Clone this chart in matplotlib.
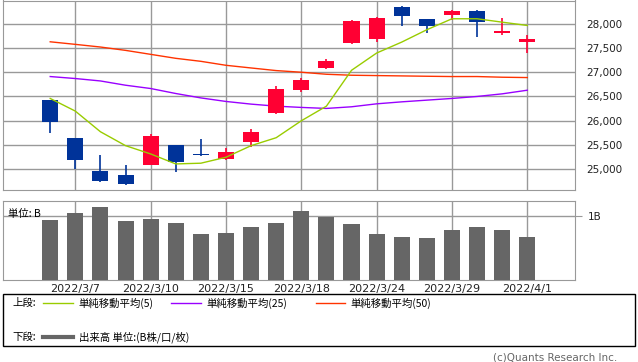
import numpy as np
import matplotlib
matplotlib.use('Agg')
import matplotlib.pyplot as plt
from matplotlib.patches import Rectangle
from matplotlib.lines import Line2D

plt.rcParams['font.family'] = ['DejaVu Sans', 'Noto Sans CJK JP']

# Données
dates = ['2022/3/4', '2022/3/7', '2022/3/8', '2022/3/9', '2022/3/10', '2022/3/11',
         '2022/3/14', '2022/3/15', '2022/3/16', '2022/3/17', '2022/3/18', '2022/3/22',
         '2022/3/23', '2022/3/24', '2022/3/25', '2022/3/28', '2022/3/29', '2022/3/30',
         '2022/3/31', '2022/4/1']
opens = [26424, 25643, 24965, 24883, 25094, 25499, 25320, 25211, 25561, 26163,
         26636, 27088, 27601, 27684, 28356, 28088, 28177, 28273, 27801, 27622]
highs = [26430, 25650, 25294, 25088, 25725, 25500, 25622, 25437, 25828, 26712,
         26882, 27281, 28068, 28135, 28360, 28095, 28280, 28294, 28109, 27766]
lows = [25752, 25000, 24745, 24663, 25090, 24950, 25280, 25197, 25465, 26136,
        26594, 27061, 27589, 27622, 27945, 27807, 28068, 27725, 27766, 27396]
closes = [25978, 25191, 24760, 24704, 25684, 25150, 25300, 25355, 25766, 26650,
          26835, 27225, 28047, 28129, 28156, 27951, 28273, 28033, 27842, 27677]
ma5 = [26459, 26198, 25772, 25485, 25314, 25108, 25123, 25246, 25485, 25649,
       25998, 26300, 27040, 27396, 27622, 27877, 28103, 28103, 28033, 27965]
ma25 = [26911, 26870, 26820, 26732, 26664, 26561, 26470, 26397, 26342, 26300,
        26274, 26253, 26287, 26348, 26389, 26424, 26459, 26500, 26554, 26629]
ma50 = [27628, 27575, 27520, 27451, 27369, 27287, 27225, 27143, 27088, 27034,
        27000, 26958, 26938, 26931, 26924, 26917, 26911, 26911, 26897, 26890]
volumes = [0.942, 1.052, 1.146, 0.926, 0.958, 0.895, 0.722, 0.738, 0.832, 0.895,
           1.083, 0.989, 0.879, 0.722, 0.675, 0.659, 0.785, 0.832, 0.785, 0.675]
label_idx = [1, 4, 7, 10, 13, 16, 19]
price_ticks = [25000, 25500, 26000, 26500, 27000, 27500, 28000]

RED = '#ff0033'
BLUE = '#003399'
GRID = '#999999'
W, H = 638, 362

fig = plt.figure(figsize=(W / 100, H / 100), dpi=100)

def fig_box(x0, y0, x1, y1):
    # Convertit des pixels (origine en haut à gauche) en coordonnées figure
    return [x0 / W, 1 - y1 / H, (x1 - x0) / W, (y1 - y0) / H]

ax = fig.add_axes(fig_box(3, 0.5, 575, 190))
axv = fig.add_axes(fig_box(3, 201, 575, 280))

x = np.arange(len(dates))
o = np.array(opens)
c = np.array(closes)
up = c >= o
colors = [RED if u else BLUE for u in up]

# Chandeliers
ax.vlines(x, lows, highs, colors=colors, lw=1.2, zorder=3)
body_bottom = np.minimum(o, c)
body_h = np.maximum(np.abs(c - o), 12)
ax.bar(x, body_h, bottom=body_bottom, width=0.64, color=colors, zorder=4)

# Moyennes mobiles
ax.plot(x, ma5, color='#99cc00', lw=1, zorder=5)
ax.plot(x, ma25, color='#9900ff', lw=1, zorder=2)
ax.plot(x, ma50, color='#ff3300', lw=1, zorder=2)

xlim = (-1.88, 20.9)
ax.set_xlim(*xlim)
ax.set_ylim(24570, 28480)
ax.set_xticks(label_idx)
ax.set_xticklabels([])
ax.tick_params(axis='x', length=0)
ax.yaxis.tick_right()
ax.set_yticks(price_ticks)
ax.set_yticklabels([f'{p:,}' for p in price_ticks], fontsize=7.5, color='#222222')
ax.tick_params(axis='y', length=0, pad=8)
ax.grid(True, color=GRID, lw=1, zorder=0)
for s in ax.spines.values():
    s.set_color(GRID)

# Volume
axv.bar(x, volumes, width=0.64, color='#666666', zorder=3)
axv.set_xlim(*xlim)
axv.set_ylim(0, 1.24)
axv.set_xticks(label_idx)
axv.set_xticklabels([dates[i] for i in label_idx], fontsize=8, color='#222222')
axv.tick_params(axis='x', length=0, pad=3)
axv.yaxis.tick_right()
axv.set_yticks([1])
axv.set_yticklabels(['1B'], fontsize=7.5, color='#222222')
axv.tick_params(axis='y', length=5, color=GRID, pad=4)
axv.grid(True, color=GRID, lw=1, zorder=0)
for s in axv.spines.values():
    s.set_color(GRID)
axv.text(0.008, 0.84, '単位: B', transform=axv.transAxes, fontsize=7.5,
         family=['Noto Sans CJK JP', 'DejaVu Sans'], va='center', ha='left')

# Légende
fig.patches.append(Rectangle((3 / W, 1 - 346 / H), 632 / W, 52 / H, transform=fig.transFigure,
                             fill=False, edgecolor='black', lw=1))
jp = ['Noto Sans CJK JP', 'DejaVu Sans']

def px(xp, yp):
    return xp / W, 1 - yp / H

def legend_line(x0, x1, yp, color, lw):
    fig.lines.append(Line2D([x0 / W, x1 / W], [1 - yp / H, 1 - yp / H],
                            transform=fig.transFigure, color=color, lw=lw))

fig.text(*px(12, 303), '上段:', fontsize=7.5, family=jp, va='center')
legend_line(43, 73, 303, '#99cc00', 1)
fig.text(*px(78, 303), '単純移動平均(5)', fontsize=7.5, family=jp, va='center')
legend_line(171, 201, 303, '#9900ff', 1)
fig.text(*px(206, 303), '単純移動平均(25)', fontsize=7.5, family=jp, va='center')
legend_line(316, 345, 303, '#ff3300', 1)
fig.text(*px(350, 303), '単純移動平均(50)', fontsize=7.5, family=jp, va='center')
fig.text(*px(12, 337), '下段:', fontsize=7.5, family=jp, va='center')
legend_line(43, 73, 337, '#666666', 3)
fig.text(*px(79, 337), '出来高 単位:(B株/口/枚)', fontsize=7.5, family=jp, va='center')

fig.text(*px(617, 357), '(c)Quants Research Inc.', fontsize=7.5, color='#666666',
         ha='right', va='center')

fig.savefig('out.png', dpi=100)
